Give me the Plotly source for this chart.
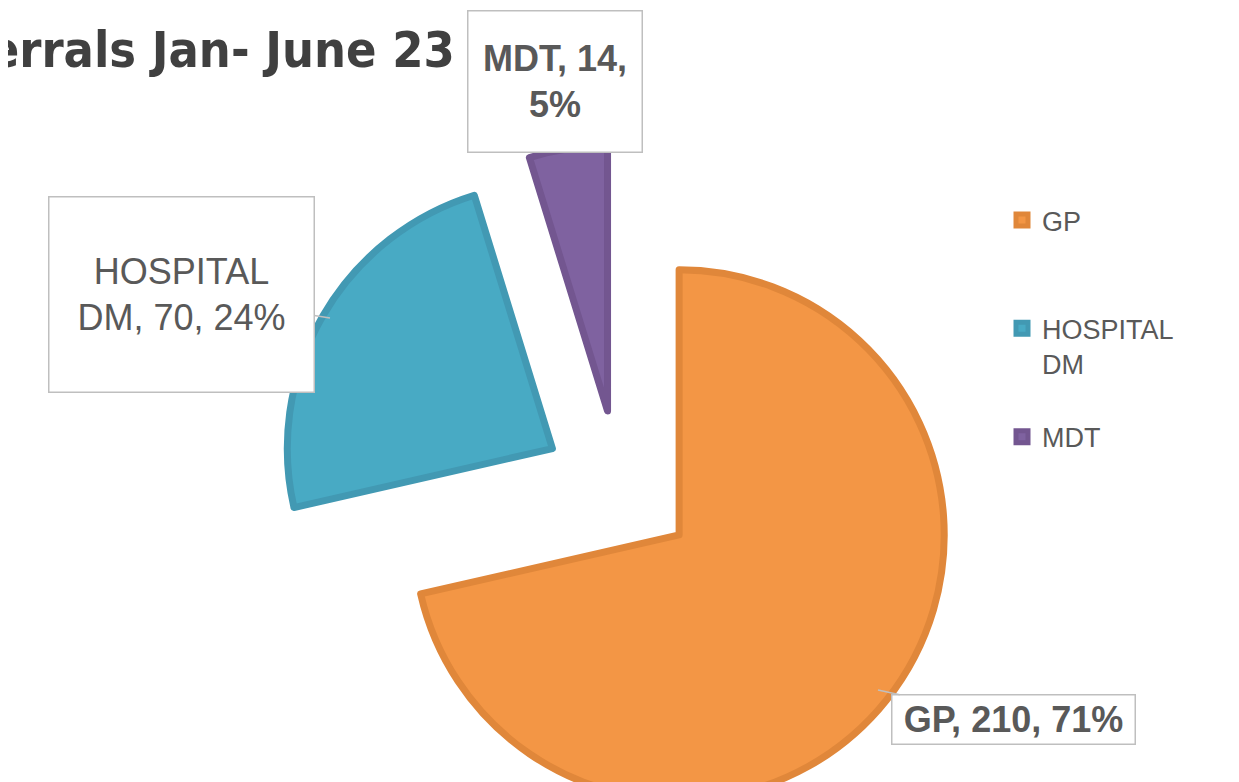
import textwrap
import plotly.graph_objects as go

# ---- data ----
title_text = "Referrals Jan- June 23"
categories = ["GP", "HOSPITAL DM", "MDT"]
values = [210, 70, 14]
fill_colors = ["#F39645", "#48AAC4", "#7F62A0"]
edge_colors = ["#E0873A", "#4299B3", "#735690"]

# ---- figure geometry (px) ----
OFF = 8            # page body margin
W, H = 1239, 958
total = sum(values)
pcts = [round(v * 100 / total) for v in values]

# legend text: category names with line breaks / spacing lines
legend_wrap = {"GP": 2, "HOSPITAL DM": 1, "MDT": 0}
legend_labels = []
for c in categories:
    t = c.replace(" ", "<br>")
    t += "<br> " * legend_wrap[c]
    legend_labels.append(t)


def px(x):
    return (x - OFF) / W


def py(y):
    return 1 - (y - OFF) / H


fig = go.Figure()
fig.add_trace(go.Pie(
    labels=legend_labels,
    values=values,
    sort=False,
    direction="clockwise",
    rotation=0,
    pull=[0.29] * len(values),
    textinfo="none",
    hoverinfo="label+value+percent",
    marker=dict(colors=fill_colors, line=dict(color=edge_colors, width=7)),
    domain=dict(x=[px(277), px(961)], y=[0, 1]),
))

# data label boxes: (wrap width, box left, top, right, bottom, bold, arrow tip)
label_style = [
    (20, 891, 694, 1136, 745, True, (878, 690)),
    (11, 48, 196, 315, 393, False, (330, 318)),
    (9, 467, 10, 643, 153, True, None),
]
annotations = []
for cat, v, p, (wrapw, l, t, r, b, bold, tip) in zip(categories, values, pcts, label_style):
    txt = "<br>".join(textwrap.wrap(f"{cat}, {v}, {p}%", wrapw))
    if bold:
        txt = f"<b>{txt}</b>"
    cx, cy = (l + r) / 2, (t + b) / 2
    common = dict(
        text=txt,
        font=dict(family="Liberation Sans, Arial, sans-serif", size=36, color="#595959"),
        bgcolor="white", bordercolor="#BFBFBF", borderwidth=1.5, borderpad=0,
        width=r - l - 3, height=b - t - 3, align="center", valign="middle",
        xref="paper", yref="paper",
    )
    if tip is not None:
        annotations.append(dict(
            x=px(tip[0]), y=py(tip[1]), ax=cx - tip[0], ay=cy - tip[1],
            axref="pixel", ayref="pixel", showarrow=True, arrowhead=0,
            arrowwidth=1.5, arrowcolor="#BFBFBF", standoff=0, startstandoff=0,
            **common))
    else:
        annotations.append(dict(x=px(cx), y=py(cy), xanchor="center", yanchor="middle",
                                showarrow=False, **common))

# title, cut off at the left edge
annotations.append(dict(
    text=title_text, x=px(457), y=py(50), xref="paper", yref="paper",
    xanchor="right", yanchor="middle", showarrow=False,
    font=dict(family="DejaVu Sans Condensed, DejaVu Sans, sans-serif",
              size=50, color="#404040", weight="bold"),
))

fig.update_layout(
    width=W, height=H,
    margin=dict(l=0, r=0, t=0, b=0),
    paper_bgcolor="white", plot_bgcolor="white",
    showlegend=True,
    legend=dict(
        x=px(1002), y=py(196), xanchor="left", yanchor="top",
        font=dict(family="Liberation Sans, Arial, sans-serif", size=27, color="#595959"),
        valign="top", bgcolor="rgba(0,0,0,0)",
    ),
    annotations=annotations,
)

fig.write_html("out.html")
